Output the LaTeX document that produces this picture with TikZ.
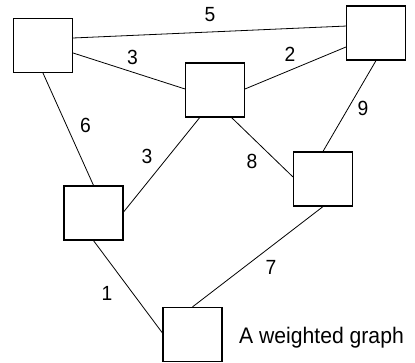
\documentclass[tikz,border=0pt]{standalone}
\usepackage{fontspec}
\setmainfont{Liberation Sans}[FakeStretch=0.94]
\usetikzlibrary{positioning}
\tikzset{
  vertex/.style={rectangle, draw=black, line width=1.2pt, minimum width=59pt, minimum height=54pt, inner sep=0pt},
  link/.style={line width=0.8pt},
  weight/.style={inner sep=0pt, font=\fontsize{20.5}{24}\selectfont},
  caption/.style={inner sep=0pt, font=\fontsize{22.5}{26}\selectfont}
}
\begin{document}
\begin{tikzpicture}[x=1pt, y=-1pt]
  \useasboundingbox (0,0) rectangle (415,363);
  \node[vertex] (a) at (43,45.5) {};
  \node[vertex] (b) at (376,33) {};
  \node[vertex] (c) at (215,90) {};
  \node[vertex] (d) at (93.5,213) {};
  \node[vertex] (e) at (323,179) {};
  \node[vertex] (f) at (192.5,334.5) {};
  \draw[link] (a.14)--(b.167); \draw[link] (a.346)--(c.178);
  \draw[link] (c.2)--(b.205); \draw[link] (a.south)--(d.north);
  \draw[link] (c.241)--(d.2); \draw[link] (c.301)--(e.176);
  \draw[link] (b.south)--(e.north); \draw[link] (e.south)--(f.north);
  \draw[link] (d.south)--(f.177);
  \node[weight] (w5) at (210,15) {5};
  \node[weight] (w3a) at (132.5,57) {3};
  \node[weight] (w2) at (290,54.5) {2};
  \node[weight] (w6) at (85.5,125) {6};
  \node[weight] (w3b) at (147,156) {3};
  \node[weight] (w8) at (252,161.5) {8};
  \node[weight] (w9) at (363,108) {9};
  \node[weight] (w7) at (271,267.5) {7};
  \node[weight] (w1) at (107,293.5) {1};
  \node[caption, anchor=base west] (cap) at (239,344) {A weighted graph};
\end{tikzpicture}
\end{document}
